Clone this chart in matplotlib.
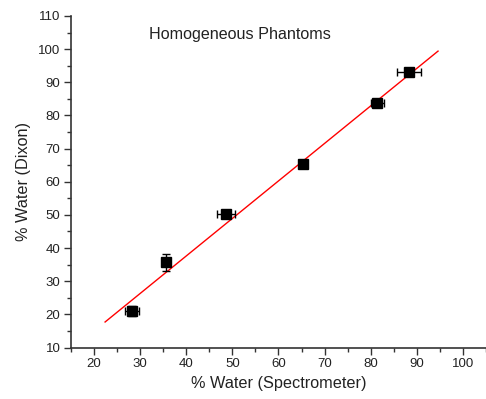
import numpy as np
import matplotlib
matplotlib.use("Agg")
import matplotlib.pyplot as plt
from matplotlib.ticker import MultipleLocator

plt.rcParams['font.family'] = ['Liberation Sans', 'DejaVu Sans']

# measured phantoms
water_spec = [28.3, 35.6, 48.6, 65.4, 81.4, 88.3]
water_dixon = [21.0, 35.7, 50.2, 65.3, 83.7, 93.2]
xerr = [1.5, 0.5, 2.0, 0.4, 1.4, 2.5]
yerr = [1.5, 2.5, 0.5, 0.4, 0.5, 0.5]

# linear fit line end points
fit_x = [22.4, 94.6]
fit_y = [17.7, 99.4]

fig = plt.figure(figsize=(4.86, 3.99), dpi=100)
ax = fig.add_axes([0.146, 0.129, 0.854, 0.831])

ax.plot(fit_x, fit_y, color="red", lw=1.0, zorder=2)
ax.errorbar(water_spec, water_dixon, xerr=xerr, yerr=yerr, fmt="s",
            color="black", ms=6.5, ecolor="black", elinewidth=1.0,
            capsize=3, capthick=1.0, zorder=3)

ax.set_xlim(15, 105)
ax.set_ylim(10, 110)
ax.xaxis.set_major_locator(MultipleLocator(10))
ax.xaxis.set_minor_locator(MultipleLocator(5))
ax.yaxis.set_major_locator(MultipleLocator(10))
ax.yaxis.set_minor_locator(MultipleLocator(5))
ax.set_xticks([20, 30, 40, 50, 60, 70, 80, 90, 100])

for s in ["top", "right"]:
    ax.spines[s].set_visible(False)
for s in ["left", "bottom"]:
    ax.spines[s].set_linewidth(1.2)
    ax.spines[s].set_color("#333333")
ax.tick_params(which="major", length=5, width=1.0, color="#333333",
               labelsize=9.5, labelcolor="#222222", pad=2.5)
ax.tick_params(which="minor", length=3, width=1.0, color="#333333")

ax.set_xlabel("% Water (Spectrometer)", fontsize=11.7, color="#222222", labelpad=4)
ax.set_ylabel("% Water (Dixon)", fontsize=11.7, color="#222222", labelpad=5)
ax.text(32.0, 104.3, "Homogeneous Phantoms", fontsize=11.6, color="#222222",
        va="center", ha="left")

plt.savefig("out.png", dpi=100)
plt.close(fig)
